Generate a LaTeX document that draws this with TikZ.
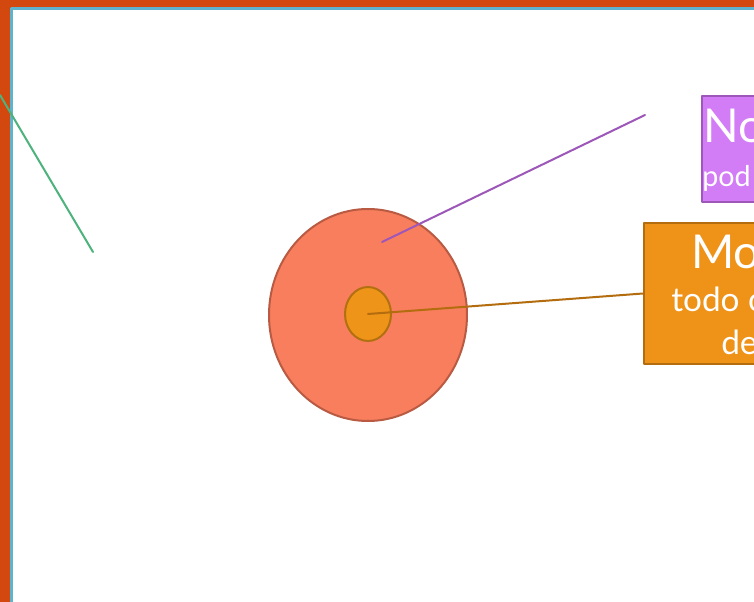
\documentclass[tikz,border=0pt]{standalone}
\usepackage{fontspec}
\setmainfont{Lato}
\usepackage{xcolor}
\usepackage{tikz}
\usetikzlibrary{shapes.geometric}
\definecolor{clFrame}{HTML}{D2480F}
\definecolor{clTeal}{HTML}{5FB3CC}
\definecolor{clCell}{HTML}{F97E5E}
\definecolor{clCellLine}{HTML}{B95B43}
\definecolor{clCore}{HTML}{EE9418}
\definecolor{clCoreLine}{HTML}{B27010}
\definecolor{clViolet}{HTML}{D27CF6}
\definecolor{clVioletLine}{HTML}{9C57B8}
\definecolor{clOrange}{HTML}{EE9218}
\definecolor{clOrangeLine}{HTML}{B36C0E}
\definecolor{clGreen}{HTML}{4DB37C}
\tikzset{
  cl diagram/.style={x=0.75pt, y=-0.75pt, line cap=round, line join=round},
  cl cell/.style={ellipse, draw=clCellLine, fill=clCell, line width=1.5pt,
    inner sep=0pt, minimum width=148.5pt, minimum height=159pt},
  cl core/.style={ellipse, draw=clCoreLine, fill=clCore, line width=1.5pt,
    inner sep=0pt, minimum width=34.5pt, minimum height=40.5pt},
  cl tag/.style={rectangle, line width=1.5pt, inner sep=0pt, anchor=north west},
  cl big/.style={font=\fontsize{35}{40}\selectfont, text=white,
    inner sep=0pt, anchor=base west},
  cl small/.style={font=\fontsize{21.5}{24}\selectfont, text=white,
    inner sep=0pt, anchor=base west},
  cl medium/.style={cl small, font=\fontsize{25}{30}\selectfont},
  cl pointer/.style={line width=1.5pt}
}
\begin{document}
\begin{tikzpicture}[cl diagram]
\useasboundingbox (0,0) rectangle (754,602);
\clip (0,0) rectangle (754,602);
% frame
\fill[clFrame] (0,0) rectangle (754,602);
\filldraw[fill=white, draw=clTeal, line width=2.25pt] (11.5,8.5) rectangle (780,640);
% cell and its core
\node[cl cell] (cell) at (368,315) {};
\node[cl core] (core) at (368,314) {};
% label boxes
\node[cl tag, fill=clViolet, draw=clVioletLine, minimum width=90pt, minimum height=79.5pt] (nbox) at (701,95) {};
\node[cl tag, fill=clOrange, draw=clOrangeLine, minimum width=112.5pt, minimum height=105.75pt] (obox) at (643,222) {};
% pointers
\coordinate (nfoot) at (382,242);
\coordinate (ntip) at (645,115);
\draw[cl pointer, draw=clVioletLine] (nfoot) -- (ntip);
\draw[cl pointer, draw=clOrangeLine] (core.center) -- (obox.west);
\coordinate (gtop) at (0,95);
\coordinate (gfoot) at (93,252);
\draw[cl pointer, draw=clGreen] (gtop) -- (gfoot);
% texts
\node[cl big] (ntitle) at (703,143) {No};
\node[cl small] (ntext) at (702,187) {pod};
\node[cl big] (otitle) at (691,269) {Mo};
\node[cl medium] (otext) at (671,312) {todo c};
\node[cl medium] (omore) at (721,355) {de};
\end{tikzpicture}
\end{document}
